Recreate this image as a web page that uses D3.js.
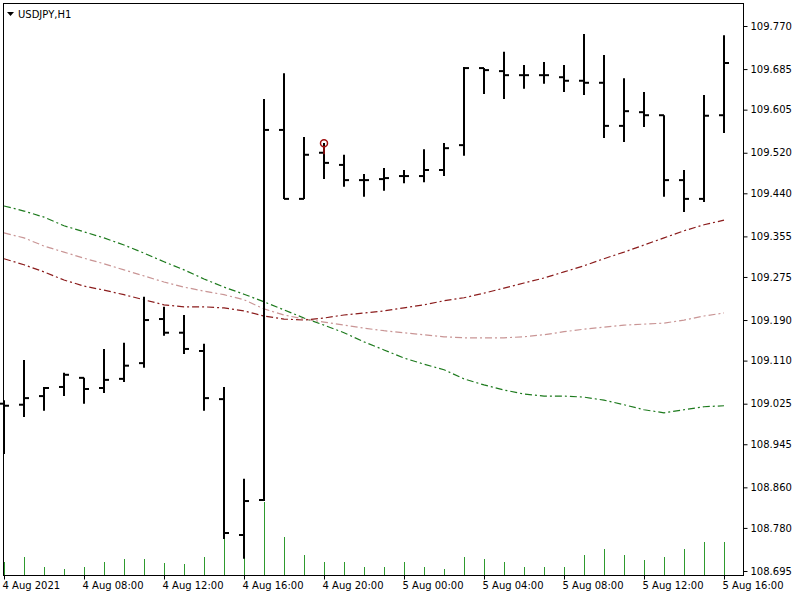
<!DOCTYPE html>
<html><head><meta charset="utf-8">
<script src="https://cdn.jsdelivr.net/npm/d3@7"></script>
<style>body{margin:0;background:#fff}svg{display:block}text{font-family:"DejaVu Sans",sans-serif;font-size:10px;fill:#000}</style>
</head><body><svg id="chart" width="800" height="600"></svg>
<script>
// hourly bars, 4 Aug 00:00 .. 5 Aug 12:00 (as drawn)
const opens  = [109.025,109.023,109.040,109.058,109.076,109.056,109.074,109.105,109.192,109.165,109.129,109.034,108.766,108.835,109.565,109.429,109.520,109.496,109.466,109.468,109.474,109.474,109.486,109.535,109.687,109.681,109.673,109.673,109.669,109.662,109.658,109.573,109.600,109.594,109.466,109.429,109.594];
const highs  = [109.032,109.111,109.058,109.086,109.076,109.133,109.145,109.236,109.216,109.200,109.143,109.058,108.877,109.626,109.677,109.551,109.539,109.516,109.478,109.490,109.486,109.527,109.539,109.689,109.687,109.719,109.693,109.699,109.693,109.754,109.713,109.667,109.640,109.594,109.486,109.634,109.752];
const lows   = [108.926,108.999,109.011,109.040,109.025,109.046,109.068,109.096,109.159,109.123,109.011,108.758,108.719,108.833,109.429,109.429,109.468,109.453,109.433,109.445,109.460,109.462,109.474,109.514,109.636,109.626,109.646,109.656,109.640,109.634,109.549,109.541,109.571,109.433,109.403,109.423,109.559];
const closes = [109.021,109.036,109.056,109.082,109.054,109.072,109.100,109.190,109.165,109.133,109.036,108.770,108.833,109.565,109.429,109.516,109.500,109.466,109.466,109.470,109.474,109.486,109.529,109.687,109.683,109.673,109.673,109.673,109.662,109.658,109.573,109.602,109.594,109.466,109.429,109.593,109.697];
const volumes = [13,18,8,6,8,13,16,16,12,11,18,38,35,73,38,20,13,13,8,8,13,8,6,18,16,13,8,8,8,20,26,20,15,18,26,33,33];
const maGreen = [109.415,109.405,109.393,109.376,109.364,109.352,109.338,109.322,109.305,109.289,109.271,109.255,109.241,109.226,109.210,109.194,109.180,109.165,109.147,109.131,109.115,109.103,109.092,109.074,109.062,109.052,109.044,109.040,109.040,109.038,109.032,109.023,109.013,109.007,109.013,109.019,109.021];
const maPink  = [109.362,109.352,109.336,109.324,109.312,109.301,109.289,109.277,109.265,109.255,109.247,109.240,109.230,109.212,109.200,109.192,109.186,109.180,109.174,109.169,109.165,109.161,109.157,109.155,109.155,109.155,109.157,109.161,109.167,109.172,109.176,109.180,109.182,109.184,109.190,109.198,109.204];
const maRed   = [109.311,109.299,109.285,109.269,109.257,109.249,109.240,109.230,109.220,109.216,109.216,109.214,109.208,109.198,109.192,109.190,109.194,109.200,109.204,109.208,109.214,109.220,109.228,109.234,109.243,109.253,109.263,109.273,109.285,109.297,109.311,109.324,109.338,109.352,109.366,109.378,109.387];
const priceTicks = [109.770,109.685,109.605,109.520,109.440,109.355,109.275,109.190,109.110,109.025,108.945,108.860,108.780,108.695];
const timeLabels = ["4 Aug 2021","4 Aug 08:00","4 Aug 12:00","4 Aug 16:00","4 Aug 20:00","5 Aug 00:00","5 Aug 04:00","5 Aug 08:00","5 Aug 12:00","5 Aug 16:00"];
const signalBar = 16, signalPrice = 109.535;

const svg = d3.select("#chart");
const L = 3, R = 743, T = 3, B = 575;
const idx = d3.range(opens.length);
const x = d3.scaleLinear().domain([0, 36]).range([4, 724]);
const y = d3.scaleLinear().domain([108.695, 109.770]).range([571, 26]);
const v = d3.scaleLinear().domain([0, 100]).range([B, B - 100]);

svg.append("rect").attr("x", L + 0.5).attr("y", T + 0.5).attr("width", R - L).attr("height", B - T)
  .attr("fill", "#fff").attr("stroke", "#000");

// volumes
svg.append("g").selectAll("line").data(idx).join("line")
  .attr("x1", i => x(i) + 0.5).attr("x2", i => x(i) + 0.5)
  .attr("y1", B).attr("y2", i => v(volumes[i]))
  .attr("stroke", "#2e9a2e").attr("stroke-width", 1);

// moving averages
const line = d3.line().x((d, i) => x(i)).y(d => y(d));
[[maGreen, "#1d7a1d"], [maPink, "#c99595"], [maRed, "#8b1c1c"]].forEach(([data, c]) => {
  svg.append("path").datum(data).attr("d", line).attr("fill", "none")
    .attr("stroke", c).attr("stroke-width", 1.2).attr("stroke-dasharray", "7,3,2,3");
});

// OHLC bars
const bars = svg.append("g").attr("stroke", "#000").attr("stroke-width", 2);
idx.forEach(i => {
  const cx = x(i);
  bars.append("line").attr("x1", cx).attr("x2", cx).attr("y1", y(highs[i])).attr("y2", y(lows[i]));
  bars.append("line").attr("x1", cx - 5).attr("x2", cx).attr("y1", y(opens[i])).attr("y2", y(opens[i]));
  bars.append("line").attr("x1", cx).attr("x2", cx + 5).attr("y1", y(closes[i])).attr("y2", y(closes[i]));
});

// signal marker
const mg = svg.append("g").attr("stroke", "#a01010").attr("fill", "none").attr("stroke-width", 1.5);
mg.append("circle").attr("cx", x(signalBar)).attr("cy", y(signalPrice) - 2).attr("r", 3.5);
mg.append("line").attr("x1", x(signalBar)).attr("x2", x(signalBar)).attr("y1", y(signalPrice) + 1).attr("y2", y(signalPrice) + 9);

// price axis
const ya = svg.append("g").attr("transform", `translate(${R + 0.5},0)`)
  .call(d3.axisRight(y).tickValues(priceTicks).tickFormat(d3.format(".3f")).tickSize(4).tickPadding(3));
ya.select(".domain").remove();
ya.selectAll("text").style("font-size", "10px");

// time axis
const xa = svg.append("g").attr("transform", `translate(0,${B + 0.5})`)
  .call(d3.axisBottom(x).tickValues(d3.range(0, 37, 4)).tickFormat((d, i) => timeLabels[i]).tickSize(4).tickPadding(2));
xa.select(".domain").remove();
xa.selectAll("text").attr("text-anchor", "start").attr("dx", -2).style("font-size", "10px");

// title
svg.append("path").attr("d", "M7,12 L14,12 L10.5,16 Z").attr("fill", "#000");
svg.append("text").attr("x", 18).attr("y", 18).text("USDJPY,H1");
</script></body></html>
